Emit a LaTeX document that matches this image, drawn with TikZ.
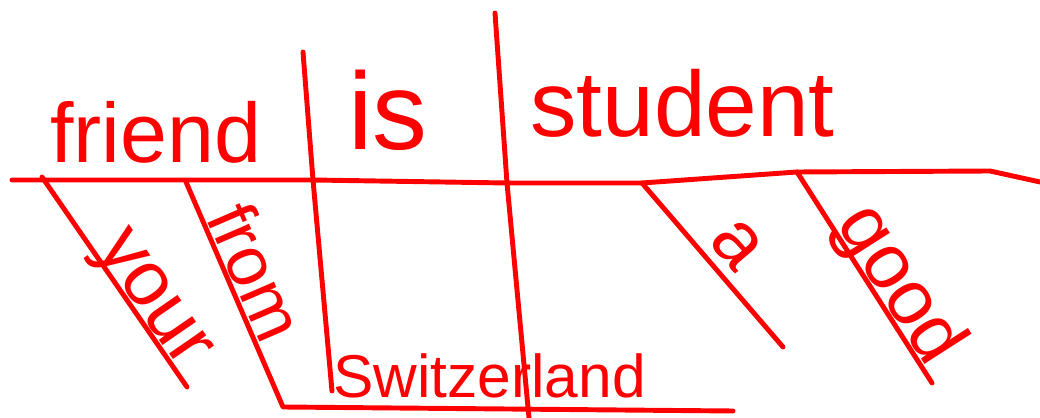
\documentclass[tikz,border=0pt]{standalone}
\usepackage{fontspec}
\setmainfont{Liberation Sans}
\usepackage{tikz}
\definecolor{penred}{HTML}{FF0000}

\begin{document}
\begin{tikzpicture}[
  x=0.025cm, y=-0.025cm,
  pen/.style={draw=penred, line width=3.5pt, line cap=round, line join=round},
  word/.style={text=penred, inner sep=0pt},
  big/.style={word, anchor=base west},
  slant/.style={word, sloped, anchor=base}
]
\useasboundingbox (0,0) rectangle (1040,418);

\coordinate (baseL) at (12,180);
\coordinate (subjX) at (313,180);
\coordinate (verbX) at (507,183);
\coordinate (bend) at (990,171);
\coordinate (baseR) at (1040,182);
\coordinate (subjTop) at (303,52);
\coordinate (subjBot) at (332,391);
\coordinate (verbTop) at (495,13);
\coordinate (verbBot) at (529,418);
\coordinate (yourA) at (42,177);
\coordinate (yourB) at (187,387);
\coordinate (fromA) at (186,182);
\coordinate (fromB) at (283,407);
\coordinate (placeR) at (733,411);
\coordinate (aA) at (642,183);
\coordinate (aB) at (783,347);
\coordinate (goodA) at (797,172);
\coordinate (goodB) at (932,383);

\draw[pen] (baseL) -- (subjX) -- (verbX) -- (aA) -- (goodA) -- (bend) -- (baseR);
\draw[pen] (subjTop) -- (subjX) -- (subjBot);
\draw[pen] (verbTop) -- (verbX) -- (verbBot);
\draw[pen] (yourA) -- (yourB);
\draw[pen] (fromA) -- (fromB) -- (placeR);
\draw[pen] (aA) -- (aB);
\draw[pen] (goodA) -- (goodB);

\node[big, font=\fontsize{60}{60}\selectfont] (friend) at (50,163) {friend};
\node[big, font=\fontsize{78}{78}\selectfont] (is) at (348,150) {is};
\node[big, font=\fontsize{66}{66}\selectfont] (student) at (530,137) {student};
\node[big, font=\fontsize{43}{43}\selectfont] (switzerland) at (333,398) {Switzerland};

\path (yourA) -- (yourB) node[slant, pos=0.64, yshift=3pt, font=\fontsize{55}{55}\selectfont] (your) {your};
\path (fromA) -- (fromB) node[slant, pos=0.45, yshift=3pt, font=\fontsize{50}{50}\selectfont] (from) {from};
\path (aA) -- (aB) node[slant, pos=0.5, yshift=8pt, font=\fontsize{55}{55}\selectfont] (a) {a};
\path (goodA) -- (goodB) node[slant, pos=0.6, yshift=3pt, font=\fontsize{55}{55}\selectfont] (good) {good};
\end{tikzpicture}
\end{document}
